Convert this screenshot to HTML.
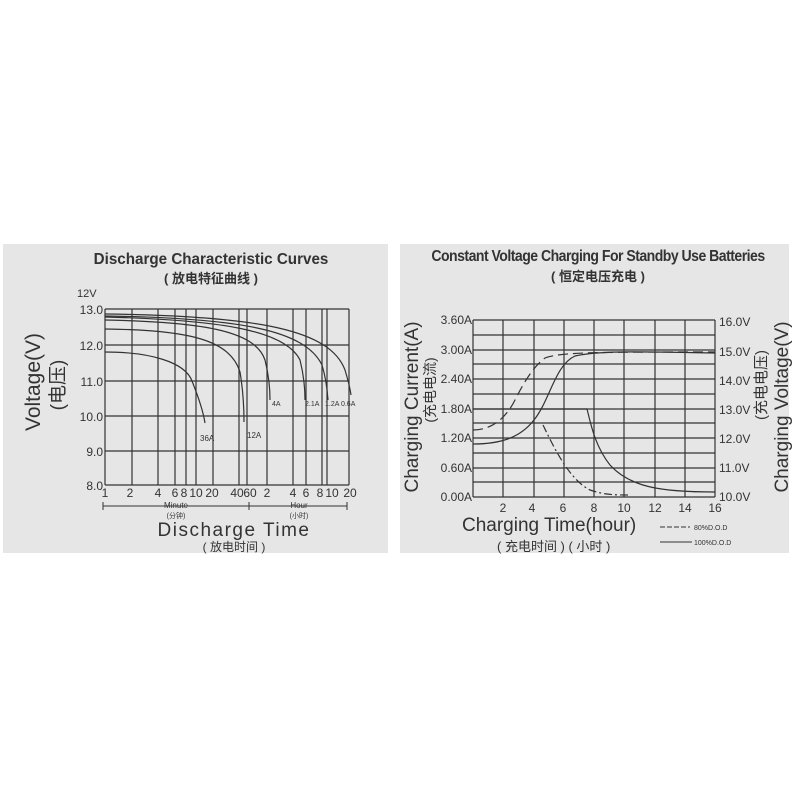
<!DOCTYPE html>
<html><head><meta charset="utf-8"><style>
body{margin:0;background:#fff;width:800px;height:800px;overflow:hidden}
svg{display:block}
text{font-family:"Liberation Sans","Noto Sans CJK SC",sans-serif;fill:#333}
</style></head><body>
<svg width="800" height="800" viewBox="0 0 800 800">
<rect x="3" y="244" width="385" height="309" fill="#e6e6e6"/>
<rect x="400" y="244" width="389" height="309" fill="#e6e6e6"/>
<!-- LEFT -->
<text x="211" y="264" font-size="16" font-weight="bold" text-anchor="middle" transform="translate(211,0) scale(0.95,1) translate(-211,0)">Discharge Characteristic Curves</text>
<text x="211" y="283" font-size="13" font-weight="bold" text-anchor="middle">( 放电特征曲线 )</text>
<text x="77" y="297" font-size="11">12V</text>
<g stroke="#333" stroke-width="1.2" fill="none">
<path d="M105 309H349M105 345H349M105 381H349M105 416H349M105 451H349M105 485H349"/>
<path d="M105 309V485M132 309V485M158 309V485M175 309V485M186 309V485M196 309V485M213 309V485M239 309V485M247 309V485M267 309V485M293 309V485M306 309V485M322 309V485M327 309V485M349 309V485"/>
<path d="M105 352C150 352 185 362 192 381C198 396 203 410 205 423"/>
<path d="M105 329C190 330 230 340 240 372C243 390 244 410 244 422"/>
<path d="M105 320C200 322 255 330 265 360C268 372 270 385 270 400"/>
<path d="M105 317C220 320 285 330 300 360C303 372 305 385 305 400"/>
<path d="M105 316C240 318 305 330 322 365C325 375 327 385 328 400"/>
<path d="M105 314C260 316 330 330 345 370C348 380 350 388 351 395"/>
</g>
<text x="200" y="441" font-size="8">36A</text>
<text x="247" y="438" font-size="8">12A</text>
<text x="272" y="406" font-size="7">4A</text>
<text x="305" y="406" font-size="7">2.1A</text>
<text x="325" y="406" font-size="7">1.2A 0.6A</text>
<g font-size="12" text-anchor="end">
<text x="103" y="314">13.0</text><text x="103" y="350">12.0</text><text x="103" y="386">11.0</text>
<text x="103" y="421">10.0</text><text x="103" y="456">9.0</text><text x="103" y="490">8.0</text>
</g>
<g font-size="12" text-anchor="middle">
<text x="105" y="497">1</text><text x="130" y="497">2</text><text x="158" y="497">4</text><text x="175" y="497">6</text><text x="184" y="497">8</text><text x="196" y="497">10</text><text x="212" y="497">20</text><text x="237" y="497">40</text><text x="250" y="497">60</text><text x="267" y="497">2</text><text x="293" y="497">4</text><text x="306" y="497">6</text><text x="320" y="497">8</text><text x="332" y="497">10</text><text x="350" y="497">20</text>
</g>
<path d="M103 506H347M103 502V510M249 502V510M347 502V510" stroke="#333" fill="none"/>
<text x="176" y="508" font-size="8" text-anchor="middle">Minute</text>
<text x="176" y="518" font-size="7" text-anchor="middle">(分钟)</text>
<text x="299" y="508" font-size="8" text-anchor="middle">Hour</text>
<text x="299" y="518" font-size="7" text-anchor="middle">(小时)</text>
<text x="234" y="536" font-size="19" text-anchor="middle" letter-spacing="1.5">Discharge  Time</text>
<text x="234" y="551" font-size="12" text-anchor="middle">( 放电时间 )</text>
<text transform="translate(40,382) rotate(-90)" font-size="21" text-anchor="middle">Voltage(V)</text>
<text transform="translate(64,385) rotate(-90)" font-size="19" text-anchor="middle">(电压)</text>
<!-- RIGHT -->
<text x="598" y="261" font-size="16" font-weight="bold" text-anchor="middle" letter-spacing="-0.6" transform="translate(598,0) scale(0.88,1) translate(-598,0)">Constant Voltage Charging For Standby Use Batteries</text>
<text x="598" y="281" font-size="13" font-weight="bold" text-anchor="middle">( 恒定电压充电 )</text>
<g stroke="#333" stroke-width="1.2" fill="none">
<path d="M473 320H715M473 335H715M473 350H715M473 364H715M473 379H715M473 394H715M473 409H715M473 423H715M473 438H715M473 453H715M473 468H715M473 482H715M473 497H715"/>
<path d="M473 320V497M503 320V497M534 320V497M564 320V497M594 320V497M624 320V497M655 320V497M685 320V497M715 320V497"/>
<path d="M473 444C500 444 520 438 534 420C550 400 555 365 575 356C600 350 650 352 715 353"/>
<path d="M473 409H587C590 420 594 445 610 465C630 487 660 492 715 492" />
<path d="M473 430C490 430 505 420 515 400C525 380 535 365 545 358C560 352 600 352 715 352" stroke-dasharray="10,5"/>
<path d="M543 425C555 450 570 480 590 490C605 495 615 495 630 495" stroke-dasharray="8,3,2,3"/>
</g>
<g font-size="12" text-anchor="end">
<text x="472" y="324">3.60A</text><text x="472" y="354">3.00A</text><text x="472" y="383">2.40A</text><text x="472" y="413">1.80A</text><text x="472" y="442">1.20A</text><text x="472" y="472">0.60A</text><text x="472" y="501">0.00A</text>
</g>
<g font-size="12">
<text x="719" y="326">16.0V</text><text x="719" y="356">15.0V</text><text x="719" y="385">14.0V</text><text x="719" y="414">13.0V</text><text x="719" y="443">12.0V</text><text x="719" y="472">11.0V</text><text x="719" y="501">10.0V</text>
</g>
<g font-size="12" text-anchor="middle">
<text x="503" y="512">2</text><text x="532" y="512">4</text><text x="563" y="512">6</text><text x="594" y="512">8</text><text x="624" y="512">10</text><text x="655" y="512">12</text><text x="685" y="512">14</text><text x="715" y="512">16</text>
</g>
<text x="462" y="531" font-size="19">Charging Time(hour)</text>
<text x="497" y="551" font-size="13">( 充电时间 ) ( 小时 )</text>
<path d="M660 527H690" stroke="#333" stroke-dasharray="5,2"/>
<text x="694" y="530" font-size="7">80%D.O.D</text>
<path d="M660 542H692" stroke="#333"/>
<text x="694" y="545" font-size="7">100%D.O.D</text>
<text transform="translate(418,407) rotate(-90)" font-size="19" text-anchor="middle">Charging Current(A)</text>
<text transform="translate(435,390) rotate(-90)" font-size="14" text-anchor="middle">(充电电流)</text>
<text transform="translate(766,385) rotate(-90)" font-size="15" text-anchor="middle">(充电电压)</text>
<text transform="translate(788,407) rotate(-90)" font-size="19" text-anchor="middle">Charging Voltage(V)</text>
</svg>
</body></html>
